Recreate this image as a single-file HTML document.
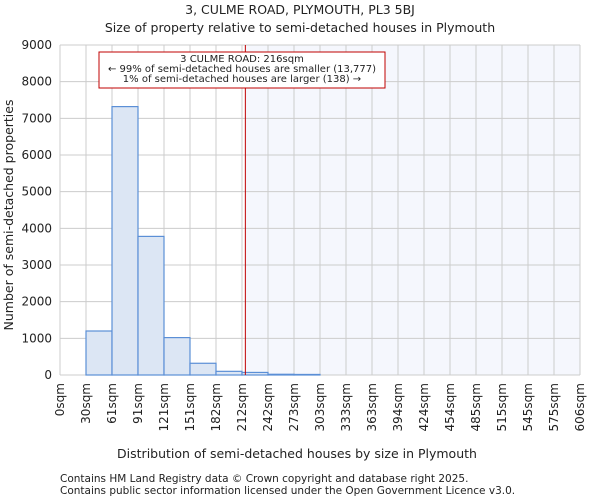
<!DOCTYPE html>
<html><head><meta charset="utf-8"><style>
body{margin:0;background:#fff;font-family:"DejaVu Sans","Liberation Sans",sans-serif;}
svg text{font-family:"DejaVu Sans","Liberation Sans",sans-serif;fill:#222;}
</style></head><body>
<svg id="c" width="600" height="500">
<text x="300" y="14" text-anchor="middle" font-size="12.5">3, CULME ROAD, PLYMOUTH, PL3 5BJ</text>
<text x="300" y="32" text-anchor="middle" font-size="12.5">Size of property relative to semi-detached houses in Plymouth</text>
<text x="297" y="458" text-anchor="middle" font-size="12.5">Distribution of semi-detached houses by size in Plymouth</text>
<text transform="translate(13,215) rotate(-90)" text-anchor="middle" font-size="12.5">Number of semi-detached properties</text>
<text x="60" y="482" font-size="10.5" fill="#333">Contains HM Land Registry data © Crown copyright and database right 2025.</text>
<text x="60" y="494" font-size="10.5" fill="#333">Contains public sector information licensed under the Open Government Licence v3.0.</text>
<g id="g"></g>
</svg>
<script>
const categories=["0sqm","30sqm","61sqm","91sqm","121sqm","151sqm","182sqm","212sqm","242sqm","273sqm","303sqm","333sqm","363sqm","394sqm","424sqm","454sqm","485sqm","515sqm","545sqm","575sqm","606sqm"];
const counts=[0,1200,7320,3780,1020,320,100,70,20,15,0,0,0,0,0,0,0,0,0,0];
const yTicks=[0,1000,2000,3000,4000,5000,6000,7000,8000,9000];
const propertySize=216;
const binSize=30.3;
const L=60,R=580,T=45,B=375,yMax=9000;
const NS="http://www.w3.org/2000/svg";
const g=document.getElementById('g');
const xs=i=>L+i*(R-L)/counts.length;
const ys=v=>B-v*(B-T)/yMax;
function mk(t,a){const e=document.createElementNS(NS,t);for(const k in a)e.setAttribute(k,a[k]);g.appendChild(e);return e;}
const px=xs(propertySize/binSize);
let e=mk('rect',{x:px,y:T,width:R-px,height:B-T,fill:'#f5f7fd'});


for(let i=0;i<=counts.length;i++){e=mk('line',{x1:xs(i),x2:xs(i),y1:T,y2:B,stroke:'#ccc'});

}
yTicks.forEach(v=>{e=mk('line',{x1:L,x2:R,y1:ys(v),y2:ys(v),stroke:'#ccc'});


e=mk('text',{x:L-8,y:ys(v)+4,'text-anchor':'end','font-size':'12'});e.textContent=v;

});
counts.forEach((c,i)=>{if(c<=0)return;e=mk('rect',{x:xs(i),y:ys(c),width:xs(1)-xs(0),height:B-ys(c),fill:'#dce6f4',stroke:'#5b8fd6','stroke-width':1.2});

});
categories.forEach((c,i)=>{e=mk('text',{transform:`translate(${xs(i)+4},${B+8}) rotate(-90)`,'text-anchor':'end','font-size':'12'});e.textContent=c;

});
e=mk('line',{x1:px,x2:px,y1:T,y2:B,stroke:'#c00000','stroke-width':1});


e=mk('rect',{x:99,y:52,width:286,height:36,fill:'#fff',stroke:'#c00000'});


["3 CULME ROAD: 216sqm","← 99% of semi-detached houses are smaller (13,777)","1% of semi-detached houses are larger (138) →"].forEach((t,i)=>{e=mk('text',{x:242,y:62+i*10,'text-anchor':'middle','font-size':'10'});e.textContent=t;

});
</script>
</body></html>
